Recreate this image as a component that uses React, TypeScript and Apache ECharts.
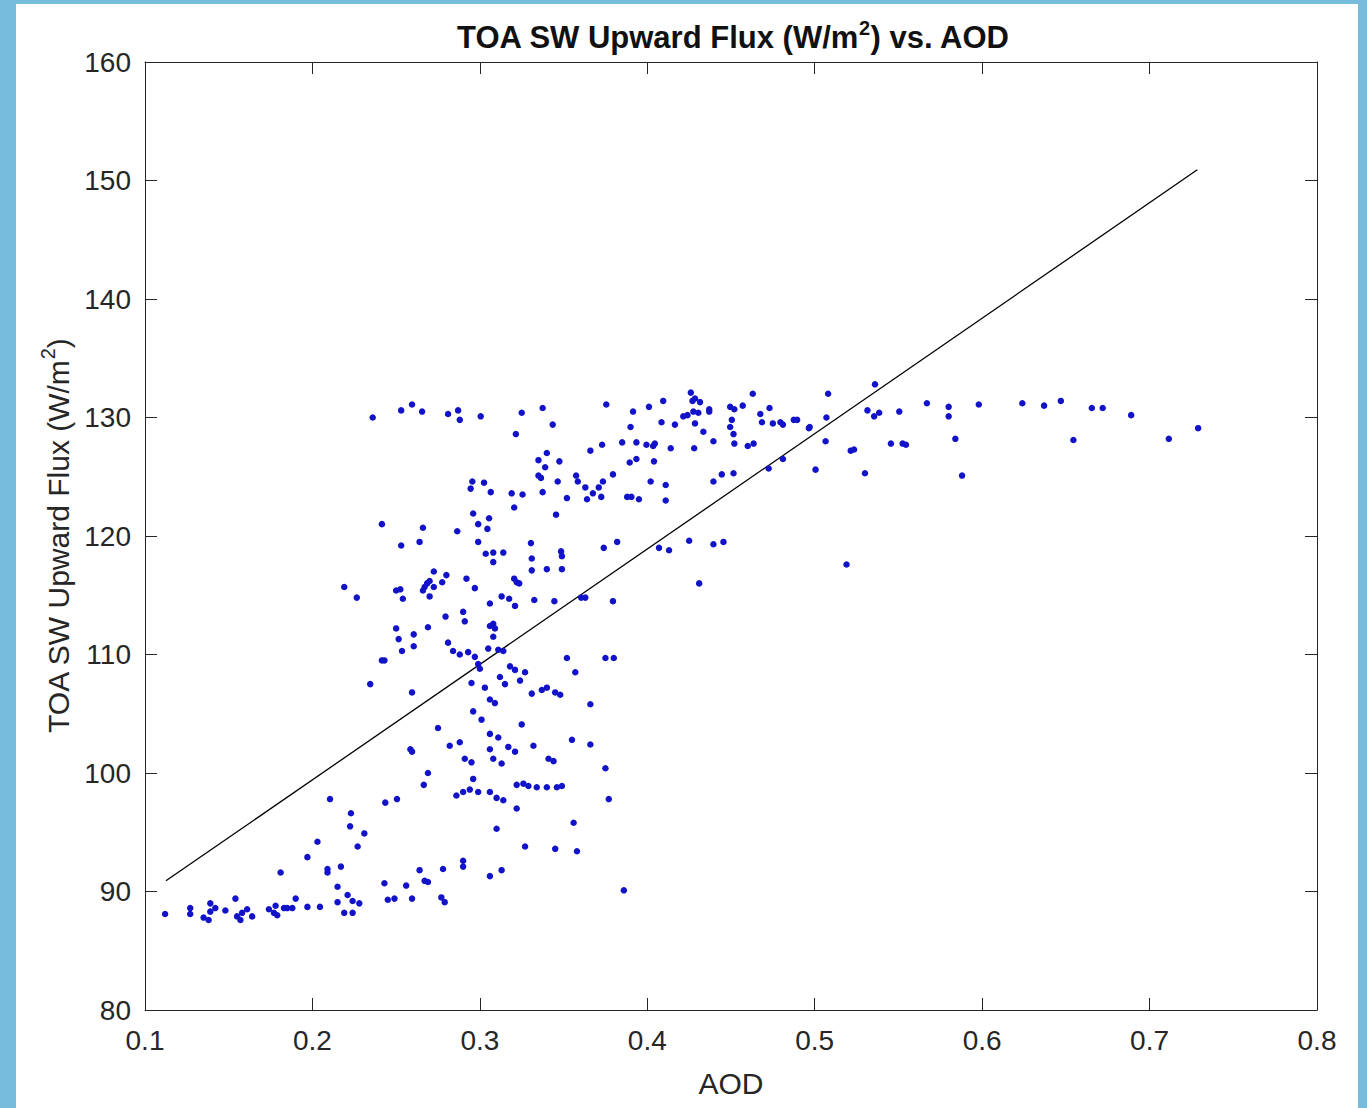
import React, { useEffect, useRef } from "react";
import * as echarts from "echarts";

// [AOD, flux] pairs
const lowBand: [number, number][] = [
  [0.112, 88.1], [0.127, 88.6], [0.127, 88.1], [0.135, 87.8], [0.139, 89.0], [0.139, 88.3],
  [0.142, 88.6], [0.138, 87.6], [0.148, 88.4], [0.154, 89.4], [0.155, 87.9], [0.158, 88.2],
  [0.157, 87.6], [0.161, 88.5], [0.164, 87.9], [0.174, 88.5], [0.177, 88.2], [0.179, 88.0],
  [0.178, 88.8], [0.183, 88.6], [0.185, 88.6], [0.188, 88.6], [0.190, 89.4], [0.197, 88.7],
  [0.181, 91.6], [0.197, 92.9], [0.2045, 88.7], [0.219, 88.2], [0.224, 88.2],
  [0.2105, 97.8], [0.223, 96.6], [0.2225, 95.5], [0.231, 94.9], [0.203, 94.2], [0.227, 93.8],
  [0.209, 91.9], [0.209, 91.6], [0.217, 92.1], [0.215, 90.4], [0.221, 89.7], [0.224, 89.2],
  [0.228, 89.0], [0.215, 89.1], [0.2435, 97.5], [0.2505, 97.8], [0.269, 100.0], [0.2665, 99.0],
  [0.243, 90.7], [0.256, 90.5], [0.264, 91.8], [0.267, 90.9], [0.269, 90.8], [0.245, 89.3],
  [0.249, 89.4], [0.2595, 89.4], [0.277, 89.5], [0.279, 89.1], [0.278, 91.9], [0.290, 92.1],
  [0.290, 92.6], [0.306, 91.3], [0.313, 91.8], [0.310, 95.3], [0.327, 93.8], [0.345, 93.6],
  [0.358, 93.4], [0.356, 95.8], [0.386, 90.1],
];

const risingLeft: [number, number][] = [
  [0.25, 112.2], [0.2605, 111.7], [0.2515, 111.3], [0.2605, 110.7], [0.2535, 110.3],
  [0.2415, 109.5], [0.243, 109.5], [0.2345, 107.5], [0.2595, 106.8], [0.2585, 102.0],
  [0.2595, 101.8], [0.2415, 121.0], [0.253, 119.2], [0.264, 119.5], [0.219, 115.7],
  [0.2265, 114.8], [0.25, 115.4], [0.2525, 115.5], [0.254, 114.7], [0.266, 120.7],
];

const midCluster: [number, number][] = [
  [0.3205, 122.4], [0.3455, 121.8], [0.296, 121.9], [0.3055, 121.5], [0.299, 121.0],
  [0.3045, 120.6], [0.2865, 120.4], [0.299, 119.5], [0.3305, 119.4], [0.3035, 118.5],
  [0.308, 118.6], [0.314, 118.6], [0.308, 117.8], [0.3485, 118.7], [0.349, 118.3],
  [0.331, 118.1], [0.331, 117.1], [0.34, 117.2], [0.349, 117.2], [0.2725, 117.0],
  [0.28, 116.7], [0.292, 116.4], [0.270, 116.2], [0.2685, 116.0], [0.267, 115.7],
  [0.266, 115.4], [0.2725, 115.7], [0.2775, 116.1], [0.270, 114.9], [0.3205, 116.4],
  [0.322, 116.1], [0.3235, 116.0], [0.297, 115.6], [0.313, 114.9], [0.3175, 114.7],
  [0.3325, 114.6], [0.3445, 114.5], [0.306, 114.3], [0.321, 114.1], [0.29, 113.6],
  [0.291, 112.8], [0.2795, 113.2], [0.269, 112.3], [0.306, 112.4], [0.308, 112.6],
  [0.3605, 114.8], [0.363, 114.8], [0.3795, 114.5], [0.374, 119.0], [0.382, 119.5],
  [0.281, 111.0], [0.284, 110.3], [0.288, 110.0], [0.293, 110.2], [0.297, 109.8],
  [0.299, 109.2], [0.305, 110.5], [0.308, 111.5], [0.311, 110.4], [0.314, 110.3],
  [0.309, 112.2], [0.295, 107.6], [0.300, 108.8], [0.303, 107.2], [0.306, 106.2],
  [0.309, 105.9], [0.312, 108.1], [0.315, 107.5], [0.318, 109.0], [0.321, 108.7],
  [0.324, 107.8], [0.327, 108.5], [0.331, 106.7], [0.337, 107.0], [0.340, 107.2],
  [0.345, 106.8], [0.348, 106.6], [0.366, 105.8], [0.357, 108.5], [0.352, 109.7],
  [0.296, 105.2], [0.301, 104.5], [0.306, 103.3], [0.275, 103.8], [0.282, 102.3],
  [0.288, 102.6], [0.291, 101.2], [0.295, 100.9], [0.306, 102.0], [0.308, 101.2],
  [0.313, 100.8], [0.317, 102.2], [0.321, 101.8], [0.325, 104.1], [0.332, 102.3],
  [0.341, 101.2], [0.344, 101.0], [0.355, 102.8], [0.366, 102.4], [0.375, 100.4],
  [0.311, 103.0], [0.286, 98.1], [0.290, 98.4], [0.294, 98.6], [0.296, 99.5],
  [0.299, 98.4], [0.306, 98.4], [0.310, 97.9], [0.314, 97.7], [0.322, 99.0],
  [0.326, 99.1], [0.329, 98.9], [0.334, 98.8], [0.340, 98.8], [0.346, 98.8],
  [0.349, 98.9], [0.377, 97.8], [0.322, 97.0], [0.375, 109.7], [0.380, 109.7],
];

const upperBand: [number, number][] = [
  [0.236, 130.0], [0.253, 130.6], [0.2595, 131.1], [0.2655, 130.5], [0.281, 130.3],
  [0.287, 130.6], [0.288, 129.8], [0.3005, 130.1], [0.325, 130.4], [0.3375, 130.8],
  [0.3435, 129.4], [0.3215, 128.6], [0.34, 127.0], [0.335, 126.4], [0.3475, 126.3],
  [0.339, 125.8], [0.335, 125.1], [0.3365, 124.9], [0.3465, 124.6], [0.3575, 125.1],
  [0.3585, 124.6], [0.2955, 124.6], [0.3025, 124.5], [0.2945, 124.0], [0.3065, 123.7],
  [0.319, 123.6], [0.3255, 123.5], [0.3375, 123.7], [0.352, 123.2],
  [0.3755, 131.1], [0.426, 132.1], [0.463, 132.0], [0.4095, 131.4], [0.427, 131.4],
  [0.4285, 131.6], [0.4315, 131.3], [0.3915, 130.5], [0.401, 130.9], [0.437, 130.7],
  [0.437, 130.5], [0.4495, 130.9], [0.452, 130.7], [0.457, 131.0], [0.473, 130.8],
  [0.4275, 130.5], [0.4305, 130.4], [0.424, 130.2], [0.4215, 130.1], [0.4675, 130.3],
  [0.4085, 129.6], [0.4165, 129.4], [0.4285, 129.5], [0.39, 129.2], [0.4505, 129.8],
  [0.4495, 129.2], [0.4685, 129.6], [0.475, 129.5], [0.4795, 129.6], [0.481, 129.4],
  [0.4875, 129.8], [0.4895, 129.8], [0.4965, 129.1], [0.4335, 128.8], [0.4515, 128.6],
  [0.4395, 128.0], [0.452, 127.8], [0.46, 127.6], [0.4635, 127.8], [0.373, 127.7],
  [0.366, 127.2], [0.385, 127.9], [0.3935, 127.9], [0.3995, 127.7], [0.4035, 127.6],
  [0.4045, 127.8], [0.414, 127.4], [0.428, 127.4], [0.3895, 126.2], [0.3935, 126.5],
  [0.404, 126.3], [0.3795, 125.2], [0.363, 124.1], [0.3735, 124.6], [0.371, 124.1],
  [0.3675, 123.6], [0.364, 123.1], [0.3725, 123.3], [0.388, 123.3], [0.3905, 123.3],
  [0.395, 123.1], [0.402, 124.6], [0.411, 124.3], [0.411, 123.0], [0.4395, 124.6],
  [0.4445, 125.2], [0.4515, 125.3], [0.4725, 125.7], [0.481, 126.5], [0.5005, 125.6],
  [0.407, 119.0], [0.413, 118.8], [0.425, 119.6], [0.4395, 119.3], [0.4455, 119.5],
  [0.431, 116.0],
];

const plateau: [number, number][] = [
  [0.508, 132.0], [0.536, 132.8], [0.507, 130.0], [0.497, 129.2], [0.5065, 128.0],
  [0.5315, 130.6], [0.5355, 130.1], [0.5385, 130.4], [0.5505, 130.5], [0.5215, 127.2],
  [0.5235, 127.3], [0.5455, 127.8], [0.5525, 127.8], [0.5545, 127.7], [0.530, 125.3],
  [0.567, 131.2], [0.58, 130.9], [0.58, 130.1], [0.584, 128.2], [0.588, 125.1],
  [0.598, 131.1], [0.624, 131.2], [0.637, 131.0], [0.647, 131.4], [0.6545, 128.1],
  [0.6655, 130.8], [0.672, 130.8], [0.689, 130.2], [0.7115, 128.2], [0.729, 129.1],
  [0.519, 117.6],
];

const fitAod = [0.1125, 0.7285];
const fitFlux = [90.9, 150.9];

const titleText = "{b|TOA SW Upward Flux (W/m}{s|2}{b|) vs. AOD}";
const yName = "{n|TOA SW Upward Flux (W/m}{s|2}{n|)}";
const xName = "AOD";

const axisColor = "#262626";
const font = "'Liberation Sans', Arial, Helvetica, sans-serif";

export default function App() {
  const ref = useRef<HTMLDivElement>(null);
  useEffect(() => {
    document.body.style.margin = "0";
    const chart = echarts.init(ref.current!, null, { renderer: "svg" });
    const points = [...lowBand, ...risingLeft, ...midCluster, ...upperBand, ...plateau];
    const baseAxis = {
      type: "value",
      axisLine: { show: true, onZero: false, lineStyle: { color: axisColor, width: 1 } },
      axisTick: { show: true, inside: true, length: 12, lineStyle: { color: axisColor, width: 1 } },
      splitLine: { show: false },
    };
    chart.setOption({
      animation: false,
      backgroundColor: "#ffffff",
      title: {
        text: titleText,
        left: 712,
        top: 4,
        textAlign: "center",
        textStyle: {
          rich: {
            b: { fontFamily: font, fontSize: 31, fontWeight: "bold", color: "#111", lineHeight: 40, verticalAlign: "bottom" },
            s: { fontFamily: font, fontSize: 20, fontWeight: "bold", color: "#111", lineHeight: 40, verticalAlign: "top", padding: [5, 0, 0, 0] },
          },
        },
      },
      grid: { left: 129, top: 58, right: 41, bottom: 98, containLabel: false },
      xAxis: [
        {
          ...baseAxis,
          position: "bottom",
          min: 0.1,
          max: 0.8,
          interval: 0.1,
          name: xName,
          nameLocation: "middle",
          nameGap: 58,
          nameTextStyle: { fontFamily: font, fontSize: 30, color: axisColor },
          axisLabel: {
            show: true,
            fontFamily: font,
            fontSize: 28,
            color: axisColor,
            margin: 16,
            formatter: (v: number) => v.toFixed(1),
          },
        },
        {
          ...baseAxis,
          position: "top",
          min: 0.1,
          max: 0.8,
          interval: 0.1,
          axisLabel: { show: false },
        },
      ],
      yAxis: [
        {
          ...baseAxis,
          position: "left",
          min: 80,
          max: 160,
          interval: 10,
          name: yName,
          nameLocation: "middle",
          nameRotate: 90,
          nameGap: 66,
          nameTextStyle: {
            rich: {
              n: { fontFamily: font, fontSize: 30, color: axisColor, lineHeight: 40, verticalAlign: "bottom" },
              s: { fontFamily: font, fontSize: 20, color: axisColor, lineHeight: 40, verticalAlign: "top", padding: [5, 0, 0, 0] },
            },
          },
          axisLabel: {
            show: true,
            fontFamily: font,
            fontSize: 28,
            color: axisColor,
            margin: 14,
          },
        },
        {
          ...baseAxis,
          position: "right",
          min: 80,
          max: 160,
          interval: 10,
          axisLabel: { show: false },
        },
      ],
      series: [
        {
          type: "scatter",
          xAxisIndex: 0,
          yAxisIndex: 0,
          data: points,
          symbol: "circle",
          symbolSize: 6.5,
          itemStyle: { color: "#1212C8", opacity: 1 },
          z: 3,
        },
        {
          type: "line",
          xAxisIndex: 0,
          yAxisIndex: 0,
          data: fitAod.map((a, i) => [a, fitFlux[i]]),
          symbol: "none",
          lineStyle: { color: "#000000", width: 1.3 },
          z: 2,
        },
      ],
    });
    return () => chart.dispose();
  }, []);
  return (
    <div style={{ position: "relative", width: 1367, height: 1108, background: "#75BDDA", overflow: "hidden" }}>
      <div ref={ref} style={{ position: "absolute", left: 16, top: 4, width: 1342, height: 1104 }} />
    </div>
  );
}
